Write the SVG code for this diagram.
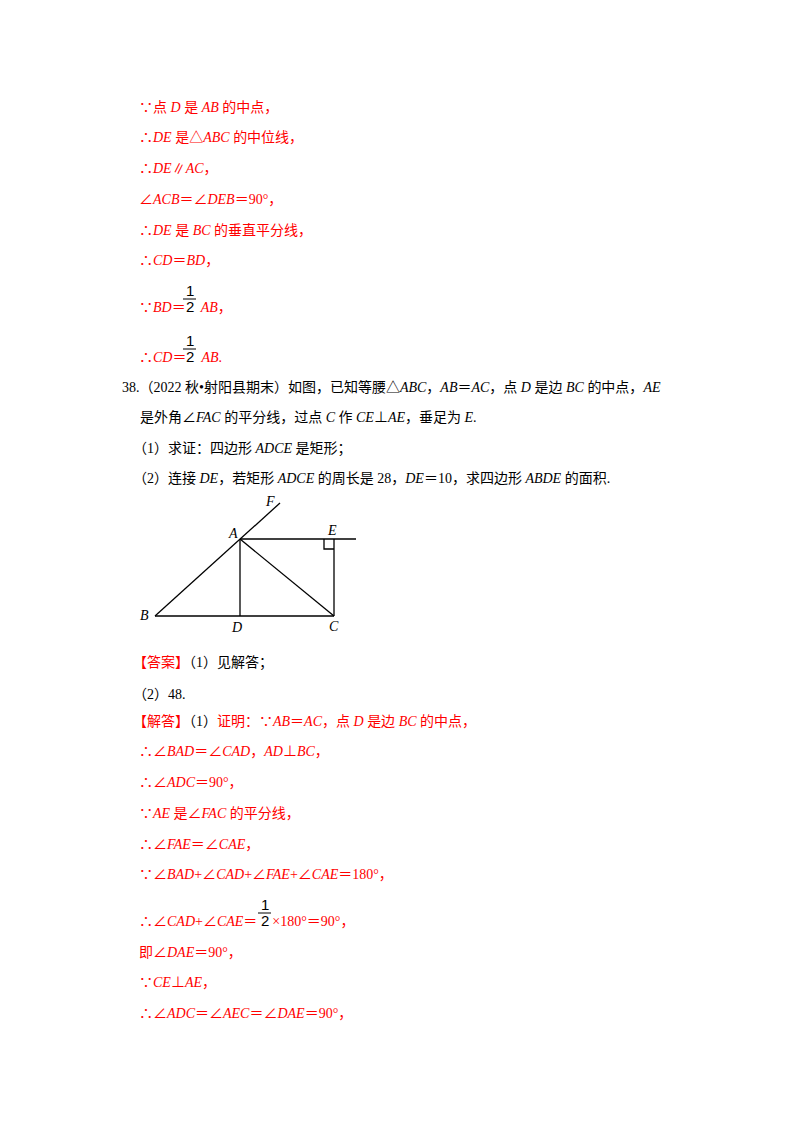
<svg xmlns="http://www.w3.org/2000/svg" width="800" height="1132" viewBox="0 0 800 1132">
<style>
text{font-family:"Liberation Serif","Noto Sans CJK SC",serif;font-size:14px;fill:#000}
.r{fill:#ff0000}
.i{font-style:italic}
.f{font-family:"Liberation Sans",sans-serif;font-size:15px;fill:#000}
.g line,.g path{stroke:#000;stroke-width:1.3;fill:none}
.l{font-style:italic;font-size:14px}
</style>
<rect width="800" height="1132" fill="#fff"/>
<g class="r">
<text x="139" y="112" class="r">∵点 <tspan class="i">D</tspan> 是 <tspan class="i">AB</tspan> 的中点，</text>
<text x="139" y="142" class="r">∴<tspan class="i">DE</tspan> 是△<tspan class="i">ABC</tspan> 的中位线，</text>
<text x="139" y="173" class="r">∴<tspan class="i">DE</tspan>∥<tspan class="i">AC</tspan>，</text>
<text x="139" y="204" class="r">∠<tspan class="i">ACB</tspan>＝∠<tspan class="i">DEB</tspan>＝90°，</text>
<text x="139" y="235" class="r">∴<tspan class="i">DE</tspan> 是 <tspan class="i">BC</tspan> 的垂直平分线，</text>
<text x="139" y="265" class="r">∴<tspan class="i">CD</tspan>＝<tspan class="i">BD</tspan>，</text>
<text x="139" y="312" class="r">∵<tspan class="i">BD</tspan>＝<tspan dx="15" class="i">AB</tspan>，</text>
<text x="139" y="362" class="r">∴<tspan class="i">CD</tspan>＝<tspan dx="15" class="i">AB</tspan>.</text>
</g>
<text x="186" y="296" class="f">1</text><line x1="183" y1="299" x2="196" y2="299" stroke="#000"/><text x="186" y="312" class="f">2</text>
<text x="186" y="346" class="f">1</text><line x1="183" y1="349" x2="196" y2="349" stroke="#000"/><text x="186" y="362" class="f">2</text>
<text x="122" y="392">38.（2022 秋•射阳县期末）如图，已知等腰△<tspan class="i">ABC</tspan>，<tspan class="i">AB</tspan>＝<tspan class="i">AC</tspan>，点 <tspan class="i">D</tspan> 是边 <tspan class="i">BC</tspan> 的中点，<tspan class="i">AE</tspan></text>
<text x="140" y="422">是外角∠<tspan class="i">FAC</tspan> 的平分线，过点 <tspan class="i">C</tspan> 作 <tspan class="i">CE</tspan>⊥<tspan class="i">AE</tspan>，垂足为 <tspan class="i">E</tspan>.</text>
<text x="133" y="453">（1）求证：四边形 <tspan class="i">ADCE</tspan> 是矩形；</text>
<text x="133" y="483">（2）连接 <tspan class="i">DE</tspan>，若矩形 <tspan class="i">ADCE</tspan> 的周长是 28，<tspan class="i">DE</tspan>＝10，求四边形 <tspan class="i">ABDE</tspan> 的面积.</text>
<g id="figure" class="g">
<line x1="155" y1="616" x2="280" y2="503"/>
<line x1="155" y1="616" x2="334" y2="616"/>
<line x1="240" y1="539" x2="356" y2="539"/>
<line x1="240" y1="539" x2="240" y2="616"/>
<line x1="240" y1="539" x2="334" y2="616"/>
<line x1="334" y1="539" x2="334" y2="616"/>
<path d="M324 539V549H334"/>
</g>
<g id="labels">
<text x="266" y="506" class="l">F</text>
<text x="229" y="538" class="l">A</text>
<text x="328" y="535" class="l">E</text>
<text x="140" y="620" class="l">B</text>
<text x="232" y="632" class="l">D</text>
<text x="329" y="631" class="l">C</text>
</g>
<text x="133" y="667" class="r">【答案】<tspan fill="#000">（1）见解答；</tspan></text>
<text x="133" y="699">（2）48.</text>
<text x="133" y="726" class="r">【解答】<tspan fill="#000">（1）</tspan>证明：∵<tspan class="i">AB</tspan>＝<tspan class="i">AC</tspan>，点 <tspan class="i">D</tspan> 是边 <tspan class="i">BC</tspan> 的中点，</text>
<text x="139" y="756" class="r">∴∠<tspan class="i">BAD</tspan>＝∠<tspan class="i">CAD</tspan>，<tspan class="i">AD</tspan>⊥<tspan class="i">BC</tspan>，</text>
<text x="139" y="787" class="r">∴∠<tspan class="i">ADC</tspan>＝90°，</text>
<text x="139" y="818" class="r">∵<tspan class="i">AE</tspan> 是∠<tspan class="i">FAC</tspan> 的平分线，</text>
<text x="139" y="849" class="r">∴∠<tspan class="i">FAE</tspan>＝∠<tspan class="i">CAE</tspan>，</text>
<text x="139" y="879" class="r">∵∠<tspan class="i">BAD</tspan>+∠<tspan class="i">CAD</tspan>+∠<tspan class="i">FAE</tspan>+∠<tspan class="i">CAE</tspan>＝180°，</text>
<text x="139" y="926" class="r">∴∠<tspan class="i">CAD</tspan>+∠<tspan class="i">CAE</tspan>＝<tspan dx="15">×180°＝90°，</tspan></text>
<text x="261" y="910" class="f">1</text><line x1="258" y1="913" x2="271" y2="913" stroke="#000"/><text x="261" y="926" class="f">2</text>
<text x="139" y="957" class="r">即∠<tspan class="i">DAE</tspan>＝90°，</text>
<text x="139" y="987" class="r">∵<tspan class="i">CE</tspan>⊥<tspan class="i">AE</tspan>，</text>
<text x="139" y="1018" class="r">∴∠<tspan class="i">ADC</tspan>＝∠<tspan class="i">AEC</tspan>＝∠<tspan class="i">DAE</tspan>＝90°，</text>
</svg>
